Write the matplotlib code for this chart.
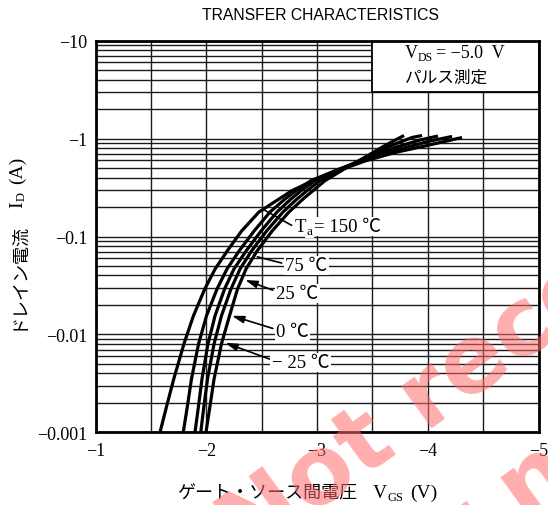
import matplotlib
matplotlib.use("Agg")
import matplotlib.pyplot as plt
from matplotlib.patches import Rectangle
from matplotlib.ticker import FixedLocator, NullFormatter

# ---------------- data ----------------
temps = ["150", "75", "25", "0", "-25"]
vgs_150 = [-1.581, -1.642, -1.705, -1.797, -1.883, -1.985, -2.079, -2.187, -2.317, -2.475,
           -2.656, -2.773, -2.963, -3.207, -3.433, -3.704, -3.993, -4.309]
id_150 = [0.001, 0.00187, 0.0035, 0.0080, 0.0155, 0.0291, 0.0466, 0.0710, 0.1135, 0.178,
          0.2415, 0.294, 0.372, 0.478, 0.590, 0.721, 0.850, 1.026]
vgs_75 = [-1.791, -1.829, -1.865, -1.929, -2.001, -2.096, -2.186, -2.295, -2.430, -2.575,
          -2.710, -2.809, -2.945, -3.189, -3.451, -3.749, -4.020, -4.219]
id_75 = [0.001, 0.00187, 0.0035, 0.0080, 0.0155, 0.0291, 0.0466, 0.0710, 0.1135, 0.178,
         0.2415, 0.294, 0.372, 0.4835, 0.619, 0.783, 0.945, 1.051]
vgs_25 = [-1.897, -1.929, -1.960, -2.014, -2.078, -2.164, -2.249, -2.358, -2.493, -2.638,
          -2.764, -2.855, -2.981, -3.207, -3.451, -3.704, -3.930, -4.092]
id_25 = [0.001, 0.00187, 0.0035, 0.0080, 0.0155, 0.0291, 0.0466, 0.0710, 0.1135, 0.178,
         0.2415, 0.294, 0.372, 0.489, 0.634, 0.811, 0.968, 1.063]
vgs_0 = [-1.949, -1.978, -2.010, -2.069, -2.136, -2.222, -2.304, -2.407, -2.543, -2.692,
         -2.818, -2.909, -3.026, -3.234, -3.451, -3.659, -3.857, -3.948]
id_0 = [0.001, 0.00187, 0.0035, 0.0080, 0.0155, 0.0291, 0.0466, 0.0710, 0.1135, 0.178,
        0.2415, 0.294, 0.372, 0.495, 0.649, 0.840, 1.026, 1.076]
vgs_m25 = [-1.996, -2.033, -2.069, -2.136, -2.209, -2.281, -2.358, -2.457, -2.593, -2.746,
           -2.873, -2.963, -3.071, -3.261, -3.451, -3.622, -3.785]
id_m25 = [0.001, 0.00187, 0.0035, 0.0080, 0.0155, 0.0291, 0.0466, 0.0710, 0.1135, 0.178,
          0.2415, 0.294, 0.372, 0.501, 0.664, 0.860, 1.076]

x_ticks = [-1, -2, -3, -4, -5]
x_tick_labels = ["−1", "−2", "−3", "−4", "−5"]
x_minor = [-1.5, -2.5, -3.5, -4.5]
y_ticks = [0.001, 0.01, 0.1, 1, 10]
y_tick_labels = ["−0.001", "−0.01", "−0.1", "−1", "−10"]

title = "TRANSFER CHARACTERISTICS"
xlabel_jp = "ゲート・ソース間電圧"
ylabel_jp = "ドレイン電流"

# ---------------- figure ----------------
W, H = 548, 506
SERIF = ["Liberation Serif", "Noto Sans CJK JP"]
JP = ["Noto Sans CJK JP", "Liberation Serif"]
plt.rcParams["font.family"] = SERIF

fig = plt.figure(figsize=(W / 100, H / 100), dpi=100)
ax = fig.add_axes([95.7 / W, (H - 433.3) / H, (538.5 - 95.7) / W, (433.3 - 41.7) / H])
ax.set_yscale("log")
ax.set_xlim(-1, -5)
ax.set_ylim(0.001, 10)

ax.set_xticks(x_ticks)
ax.set_xticklabels(x_tick_labels)
ax.xaxis.set_minor_locator(FixedLocator(x_minor))
ax.set_yticks(y_ticks)
ax.set_yticklabels(y_tick_labels)
minor_y = [m * 10.0 ** e for e in range(-3, 1) for m in range(2, 10)]
ax.yaxis.set_minor_locator(FixedLocator(minor_y))
ax.yaxis.set_minor_formatter(NullFormatter())
ax.xaxis.set_minor_formatter(NullFormatter())
ax.tick_params(which="both", length=0)
ax.tick_params(axis="x", pad=7, labelsize=13)
ax.tick_params(axis="y", pad=6, labelsize=13)
ax.set_axisbelow(True)
ax.grid(which="both", color="#1a1a1a", lw=1.0)
for sp in ax.spines.values():
    sp.set_linewidth(2.0)

# condition box (covers grid)
ax.add_patch(Rectangle((0.625, 0.869), 0.375, 0.131, transform=ax.transAxes,
                       fc="white", ec="black", lw=1.3, zorder=1))

curves = [(vgs_150, id_150), (vgs_75, id_75), (vgs_25, id_25), (vgs_0, id_0), (vgs_m25, id_m25)]
for v, i in curves:
    ax.plot(v, i, color="black", lw=2.3, zorder=3, solid_capstyle="butt",
            solid_joinstyle="round")

renderer = fig.canvas.get_renderer()


def put_runs(x, y, pieces, rotation=0, bg=False, zorder=5):
    """Place text pieces one after another; x, y in figure pixels (baseline start)."""
    for s, props, shift, gap in pieces:
        if rotation == 0:
            px, py = x + gap, y - shift
        else:
            px, py = x + shift, y + gap
        kw = dict(rotation=rotation, rotation_mode="anchor", ha="left", va="baseline", zorder=zorder)
        if bg:
            kw["bbox"] = dict(fc="white", ec="none", pad=1.0)
        t = fig.text(px / W, py / H, s, **kw, **props)
        bb = t.get_window_extent(renderer)
        if rotation == 0:
            x = bb.x1
        else:
            y = bb.y1


def data_px(v, i):
    return ax.transData.transform((v, i))


# title
fig.text(320 / W, 1 - 15 / H, title, ha="center", va="center",
         family=["Liberation Sans"], fontsize=11.3)

# box texts
put_runs(405, H - 58, [("V", dict(fontsize=13), 0, 0),
                       ("DS", dict(fontsize=8.5), 3, 0),
                       ("= −5.0  V", dict(fontsize=13), 0, 3)])
put_runs(405, H - 83, [("パルス測定", dict(family=JP, fontsize=12), 0, 0)])

# x label
put_runs(177, 8, [(xlabel_jp, dict(family=JP, fontsize=13), 0, 0),
                  ("V", dict(fontsize=14), 0, 16),
                  ("GS", dict(fontsize=9), 3, 0),
                  ("(V)", dict(fontsize=14), 0, 7)])

# y label (rotated)
put_runs(22, H - 330, [(ylabel_jp, dict(family=JP, fontsize=13), 0, 0),
                       ("I", dict(fontsize=14), 0, 14),
                       ("D", dict(fontsize=9), 3, 0),
                       ("(A)", dict(fontsize=14), 0, 8)], rotation=90)

# curve labels
lab = dict(fontsize=13.5)
sub = dict(fontsize=9.5)
x0, y0 = data_px(-2.80, 0.114)
put_runs(x0, y0, [("T", lab, 0, 0), ("a", sub, 3, 0), ("= 150 ℃", lab, 0, 2)], bg=True)
x0, y0 = data_px(-2.71, 0.0455)
put_runs(x0, y0, [("75 ℃", lab, 0, 0)], bg=True)
x0, y0 = data_px(-2.63, 0.0236)
put_runs(x0, y0, [("25 ℃", lab, 0, 0)], bg=True)
x0, y0 = data_px(-2.63, 0.00964)
put_runs(x0, y0, [("0 ℃", lab, 0, 0)], bg=True)
x0, y0 = data_px(-2.59, 0.00465)
put_runs(x0, y0, [("− 25 ℃", lab, 0, 0)], bg=True)

line_kw = dict(arrowstyle="-", lw=1.2, color="black", shrinkA=0, shrinkB=0)
arr_kw = dict(arrowstyle="-|>,head_length=0.6,head_width=0.18", lw=1.2, color="black",
              shrinkA=0, shrinkB=0, mutation_scale=12)
ax.annotate("", xy=(-2.51, 0.19), xytext=(-2.77, 0.13), arrowprops=line_kw, zorder=4)
ax.annotate("", xy=(-2.46, 0.062), xytext=(-2.68, 0.0536), arrowprops=line_kw, zorder=4)
ax.annotate("", xy=(-2.35, 0.036), xytext=(-2.60, 0.0283), arrowprops=arr_kw, zorder=4)
ax.annotate("", xy=(-2.23, 0.0155), xytext=(-2.60, 0.0115), arrowprops=arr_kw, zorder=4)
ax.annotate("", xy=(-2.17, 0.0082), xytext=(-2.57, 0.0056), arrowprops=arr_kw, zorder=4)

# watermark
wm = dict(rotation=36, rotation_mode="anchor", ha="left", va="baseline",
          family=["DejaVu Sans"], fontweight="bold", fontsize=68,
          color=(1.0, 0.42, 0.42), alpha=0.55, zorder=20)
fig.text(246 / W, -57 / H, "Not recommended", **wm)
fig.text(375 / W, -126 / H, "for new design", **wm)

fig.savefig("out.png", dpi=100)
